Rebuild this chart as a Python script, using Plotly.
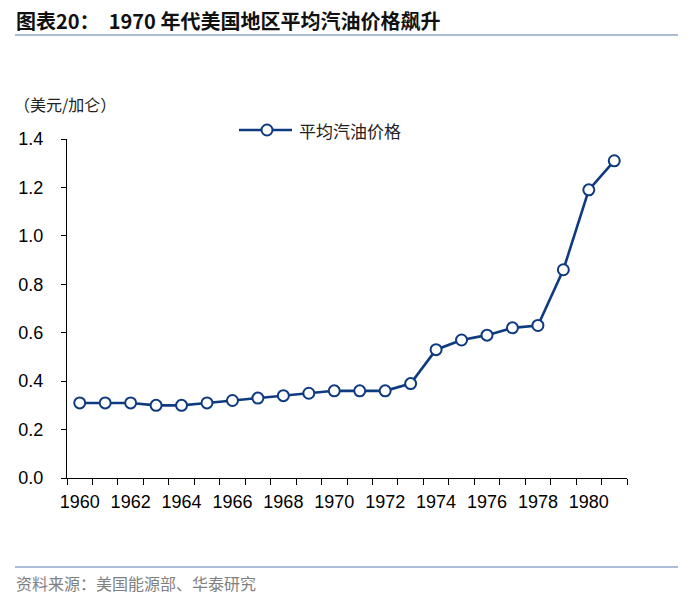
import plotly.graph_objects as go

years = list(range(1960, 1982))
prices = [0.31, 0.31, 0.31, 0.30, 0.30, 0.31, 0.32, 0.33, 0.34, 0.35, 0.36,
          0.36, 0.36, 0.39, 0.53, 0.57, 0.59, 0.62, 0.63, 0.86, 1.19, 1.31]
series_name = "平均汽油价格"
title_text = "图表20：  1970 年代美国地区平均汽油价格飙升"
unit_text = "（美元/加仑）"
source_text = "资料来源：美国能源部、华泰研究"
x_tick_vals = list(range(1960, 1981, 2))
y_tick_vals = [0.0, 0.2, 0.4, 0.6, 0.8, 1.0, 1.2, 1.4]

navy = "#0E3B80"
cjk = "Noto Sans CJK SC"
latin = "Liberation Sans, Arial"

L, R, T, B = 67, 627, 139, 478
PW, PH = R - L, B - T


def px(x):
    return (x - L) / PW


def py(y):
    return (B - y) / PH


fig = go.Figure()
fig.add_trace(go.Scatter(
    x=years, y=prices, name=series_name, mode="lines+markers",
    line=dict(color=navy, width=2.6),
    marker=dict(symbol="circle", size=11, color="white",
                line=dict(color=navy, width=2)),
    showlegend=False,
))

# legend drawn as a key: line + open circle + label
leg_y = py(130)
shapes = [
    dict(type="line", xref="paper", yref="paper",
         x0=px(239), x1=px(292), y0=leg_y, y1=leg_y,
         line=dict(color=navy, width=2.6)),
    dict(type="circle", xref="paper", yref="paper",
         x0=px(261.5), x1=px(272.5), y0=py(135.5), y1=py(124.5),
         fillcolor="white", line=dict(color=navy, width=2)),
    dict(type="line", xref="paper", yref="paper",
         x0=px(15), x1=px(678), y0=py(35), y1=py(35),
         line=dict(color="#8EA6C9", width=1.5)),
    dict(type="line", xref="paper", yref="paper",
         x0=px(15), x1=px(678), y0=py(567), y1=py(567),
         line=dict(color="#8EA6C9", width=1.5)),
]

fig.update_layout(
    width=700, height=599,
    paper_bgcolor="white", plot_bgcolor="white",
    margin=dict(l=L, r=700 - R, t=T, b=599 - B),
    showlegend=False,
    xaxis=dict(
        range=[1959.5, 1981.5], showgrid=False, zeroline=False,
        showline=True, linecolor="black", linewidth=1.2,
        tickmode="array", tickvals=x_tick_vals,
        ticktext=[str(v) for v in x_tick_vals],
        ticks="", ticklabelstandoff=7,
        tickfont=dict(family=latin, size=18, color="black"),
        minor=dict(tickmode="linear", tick0=1959.5, dtick=1,
                   ticks="outside", ticklen=6, tickcolor="black",
                   tickwidth=1.2, showgrid=False),
    ),
    yaxis=dict(
        range=[0, 1.4], showgrid=False, zeroline=False,
        showline=True, linecolor="black", linewidth=1.2,
        tickmode="array", tickvals=y_tick_vals,
        ticktext=[f"{v:.1f}" for v in y_tick_vals],
        ticks="outside", ticklen=5, tickcolor="black", tickwidth=1.2,
        ticklabelstandoff=14,
        tickfont=dict(family=latin, size=18, color="black"),
    ),
    annotations=[
        dict(text="<b>" + title_text + "</b>", xref="paper", yref="paper",
             x=px(14), y=py(20), xanchor="left", yanchor="middle",
             showarrow=False, font=dict(family=cjk, size=20, color="#111")),
        dict(text=unit_text, xref="paper", yref="paper",
             x=px(12), y=py(104), xanchor="left", yanchor="middle",
             showarrow=False, font=dict(family=cjk, size=16, color="#222")),
        dict(text=series_name, xref="paper", yref="paper",
             x=px(297), y=leg_y, xanchor="left", yanchor="middle",
             showarrow=False, font=dict(family=cjk, size=17, color="#222")),
        dict(text=source_text, xref="paper", yref="paper",
             x=px(14), y=py(583), xanchor="left", yanchor="middle",
             showarrow=False, font=dict(family=cjk, size=16, color="#808080")),
    ],
    shapes=shapes,
)

fig.write_html("out.html", config={"displayModeBar": False},
               post_script="document.body.style.margin='0';document.body.style.padding='0';")
